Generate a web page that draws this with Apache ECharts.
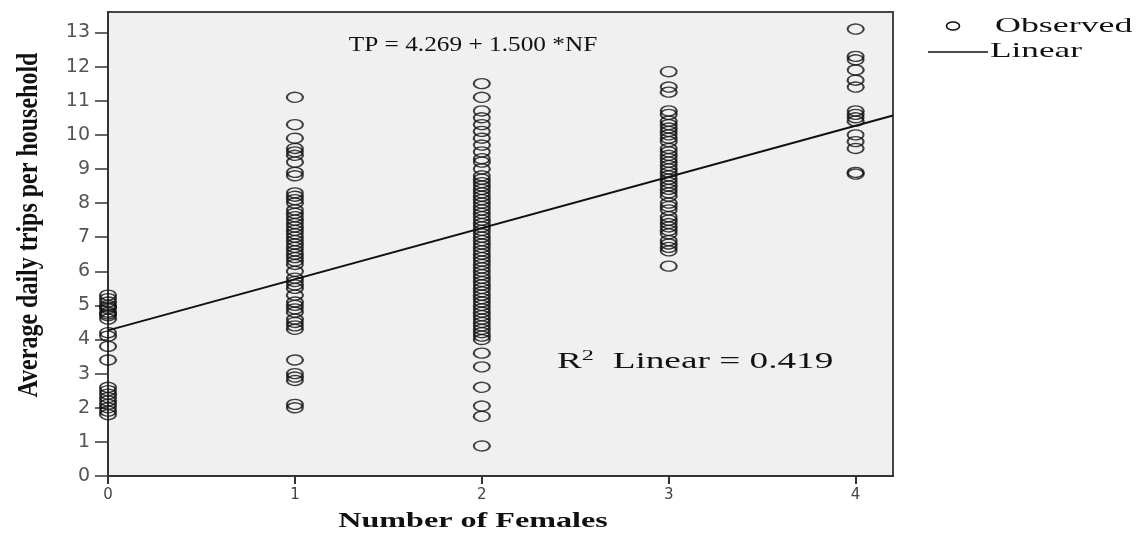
<!DOCTYPE html>
<html>
<head>
<meta charset="utf-8">
<script src="https://cdn.jsdelivr.net/npm/echarts@6/dist/echarts.min.js"></script>
<style>
  html, body { margin: 0; padding: 0; background: #fff; }
  #chart { width: 1147px; height: 539px; }
</style>
</head>
<body>
<div id="chart"></div>
<script>
// observed trips per household, grouped by number of females
const females = [0, 1, 2, 3, 4]
const trips0 = [5.3, 5.2, 5.1, 5.0, 4.95, 4.9, 4.8, 4.75, 4.7, 4.6, 4.2, 4.1, 3.8, 3.4,
  2.6, 2.5, 2.4, 2.3, 2.2, 2.1, 2.0, 1.9, 1.8]
const trips1 = [11.1, 10.3, 9.9, 9.6, 9.5, 9.4, 9.2, 8.9, 8.8, 8.3, 8.2, 8.1, 8.0, 7.8, 7.7,
  7.6, 7.5, 7.4, 7.3, 7.2, 7.1, 7.0, 6.9, 6.8, 6.7, 6.6, 6.5, 6.4, 6.3, 6.2, 6.0, 5.8, 5.7,
  5.6, 5.5, 5.3, 5.1, 5.0, 4.9, 4.8, 4.6, 4.5, 4.4, 4.3, 3.4, 3.0, 2.9, 2.8, 2.1, 2.0]
const trips2 = [11.5, 11.1, 10.7, 10.5, 10.3, 10.1, 9.9, 9.7, 9.5, 9.3, 9.2, 9.0, 8.8, 8.7,
  8.6, 8.5, 8.4, 8.3, 8.2, 8.1, 8.0, 7.9, 7.8, 7.7, 7.6, 7.5, 7.4, 7.3, 7.2, 7.1, 7.0, 6.9,
  6.8, 6.7, 6.6, 6.5, 6.4, 6.3, 6.2, 6.1, 6.0, 5.9, 5.8, 5.7, 5.6, 5.5, 5.4, 5.3, 5.2, 5.1,
  5.0, 4.9, 4.8, 4.7, 4.6, 4.5, 4.4, 4.3, 4.2, 4.1, 4.0, 3.6, 3.2, 2.6, 2.05, 1.75, 0.88]
const trips3 = [11.85, 11.4, 11.25, 10.7, 10.6, 10.4, 10.3, 10.2, 10.1, 10.0, 9.9, 9.8, 9.6,
  9.5, 9.4, 9.3, 9.2, 9.1, 9.0, 8.9, 8.8, 8.7, 8.6, 8.5, 8.4, 8.3, 8.2, 8.0, 7.9, 7.8, 7.6,
  7.5, 7.4, 7.3, 7.2, 7.1, 6.9, 6.8, 6.7, 6.6, 6.15]
const trips4 = [13.1, 12.3, 12.2, 11.9, 11.6, 11.4, 10.7, 10.6, 10.5, 10.4, 10.0, 9.8, 9.6,
  8.9, 8.85]

// fitted line TP = 4.269 + 1.500 * NF, drawn across the x range
const fitX = [0, 4.2]
const fitY = [4.269, 10.569]

const xTicks = [0, 1, 2, 3, 4]
const yTicks = [0, 1, 2, 3, 4, 5, 6, 7, 8, 9, 10, 11, 12, 13]

const groups = [trips0, trips1, trips2, trips3, trips4]
const observed = []
groups.forEach((vals, i) => {
  vals.forEach((v) => observed.push([females[i], v]))
})

const ellipse = 'path://M0,5A8,5 0 1,0 16,0A8,5 0 1,0 0,5Z'

const chart = echarts.init(document.getElementById('chart'))
chart.setOption({
  animation: false,
  backgroundColor: '#fff',
  grid: {
    left: 108,
    right: 254,
    top: 12,
    bottom: 63,
    show: true,
    backgroundColor: '#f0f0f0',
    borderColor: '#444',
    borderWidth: 2,
  },
  xAxis: {
    type: 'value',
    min: 0,
    max: 4.2,
    splitLine: { show: false },
    axisLine: { show: true, onZero: false, lineStyle: { color: '#333', width: 2 } },
    axisTick: { show: true, length: 8, customValues: xTicks, lineStyle: { color: '#333', width: 2 } },
    axisLabel: {
      customValues: xTicks,
      fontFamily: 'DejaVu Sans',
      fontSize: 15,
      color: '#444',
      margin: 12,
    },
  },
  yAxis: {
    type: 'value',
    min: 0,
    max: 13.6,
    splitLine: { show: false },
    axisLine: { show: true, onZero: false, lineStyle: { color: '#333', width: 2 } },
    axisTick: { show: true, length: 13, customValues: yTicks, lineStyle: { color: '#333', width: 1.5 } },
    axisLabel: {
      customValues: yTicks,
      fontFamily: 'DejaVu Sans',
      fontSize: 19,
      color: '#555',
      margin: 18,
    },
  },
  series: [
    {
      name: 'Observed',
      type: 'scatter',
      symbol: ellipse,
      symbolSize: [16, 10],
      itemStyle: { color: 'rgba(0,0,0,0)', borderColor: '#111', borderWidth: 1.7 },
      data: observed,
      z: 2,
    },
    {
      name: 'Linear',
      type: 'line',
      showSymbol: false,
      lineStyle: { color: '#111', width: 2 },
      data: fitX.map((x, i) => [x, fitY[i]]),
      z: 3,
    },
  ],
  graphic: [
    {
      type: 'text',
      x: 29,
      y: 225,
      rotation: Math.PI / 2,
      scaleX: 0.8,
      style: {
        text: 'Average daily trips per household',
        font: 'bold 30px "Liberation Serif"',
        fill: '#111',
        textAlign: 'center',
        textVerticalAlign: 'middle',
      },
    },
    {
      type: 'text',
      x: 473,
      y: 522,
      scaleX: 1.53,
      style: {
        text: 'Number of Females',
        font: 'bold 21px "Liberation Serif"',
        fill: '#111',
        textAlign: 'center',
        textVerticalAlign: 'middle',
      },
    },
    {
      type: 'text',
      x: 473,
      y: 45,
      scaleX: 1.15,
      style: {
        text: 'TP = 4.269 + 1.500 *NF',
        font: '22px "Liberation Serif"',
        fill: '#111',
        textAlign: 'center',
        textVerticalAlign: 'middle',
      },
    },
    {
      type: 'text',
      x: 557,
      y: 362,
      scaleX: 1.62,
      style: {
        text: 'R{sup|2}  Linear = 0.419',
        font: '23px "Liberation Serif"',
        fill: '#111',
        textVerticalAlign: 'middle',
        rich: {
          sup: { fontSize: 15, fontFamily: 'Liberation Serif', verticalAlign: 'top', padding: [0, 0, 12, 0] },
        },
      },
    },
    // legend
    {
      type: 'ellipse',
      shape: { cx: 953, cy: 26, rx: 6.5, ry: 4 },
      style: { fill: 'none', stroke: '#111', lineWidth: 1.6 },
    },
    {
      type: 'text',
      x: 995,
      y: 26,
      scaleX: 1.63,
      style: {
        text: 'Observed',
        font: '22px "Liberation Serif"',
        fill: '#111',
        textVerticalAlign: 'middle',
      },
    },
    {
      type: 'line',
      shape: { x1: 928, y1: 52, x2: 988, y2: 52 },
      style: { stroke: '#111', lineWidth: 1.6 },
    },
    {
      type: 'text',
      x: 990,
      y: 51,
      scaleX: 1.6,
      style: {
        text: 'Linear',
        font: '22px "Liberation Serif"',
        fill: '#111',
        textVerticalAlign: 'middle',
      },
    },
  ],
})
</script>
</body>
</html>
